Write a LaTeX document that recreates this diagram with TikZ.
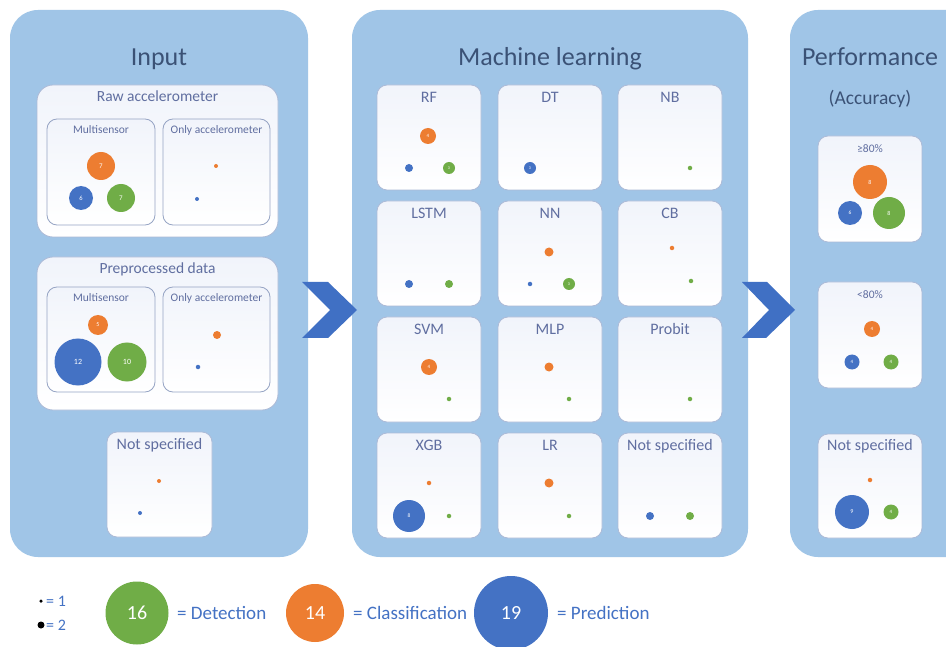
\documentclass[tikz,border=0pt]{standalone}
\usepackage{fontspec}
\setmainfont{Carlito}
\definecolor{panelc}{RGB}{160,197,231}
\definecolor{chevc}{RGB}{64,112,196}
\definecolor{cO}{RGB}{237,125,49}
\definecolor{cB}{RGB}{68,114,196}
\definecolor{cG}{RGB}{112,173,71}
\definecolor{ttl}{RGB}{59,82,118}
\definecolor{lbl}{RGB}{96,110,160}
\definecolor{boxline}{RGB}{172,186,215}
\definecolor{inline}{RGB}{150,164,196}
\definecolor{boxtop}{RGB}{241,244,251}
\newcommand\mybub[6]{\node[bub,fill=#1,minimum size=#4pt,font={\fontsize{#5}{#5}\selectfont}] (#6) at (#2) {#3};}
\newcommand\mydot[4]{\node[dotn,fill=#1,minimum size=#3pt] (#4) at (#2) {};}
\begin{document}
\begin{tikzpicture}[x=1pt,y=-1pt,
  panel/.style={fill=panelc,draw=none,rounded corners=28pt,inner sep=0pt},
  ptitle/.style={text=ttl,font={\fontsize{26}{26}\selectfont},anchor=mid,inner sep=0pt},
  grp/.style={draw=boxline,line width=0.8pt,rounded corners=16pt,top color=boxtop,bottom color=white,inner sep=0pt},
  cell/.style={draw=boxline,line width=0.8pt,rounded corners=10pt,top color=boxtop,bottom color=white,inner sep=0pt,minimum width=104pt,minimum height=105pt},
  sub/.style={draw=inline,line width=0.8pt,rounded corners=10pt,top color=boxtop,bottom color=white,inner sep=0pt,minimum width=108pt,minimum height=106pt},
  gtitle/.style={text=lbl,font={\fontsize{15.5}{15.5}\selectfont},anchor=mid,inner sep=0pt},
  stitle/.style={text=lbl,font={\fontsize{11.5}{11.5}\selectfont},anchor=mid,inner sep=0pt},
  ctitle/.style={text=lbl,font={\fontsize{16}{16}\selectfont},anchor=mid,inner sep=0pt},
  bub/.style={circle,inner sep=0pt,text=white,draw=none},
  dotn/.style={circle,inner sep=0pt,draw=none},
  chev/.style={fill=chevc,draw=none},
  legt/.style={text=cB,font={\fontsize{19}{19}\selectfont},anchor=west,inner sep=0pt},
  legs/.style={text=cB,font={\fontsize{16}{16}\selectfont},anchor=west,inner sep=0pt}
]
\useasboundingbox (0,0) rectangle (946,647);
\clip (0,0) rectangle (946,647);
\fill[white] (0,0) rectangle (946,647);

% panels
\node[panel,minimum width=298pt,minimum height=547pt] (pin) at (159,283.5) {};
\node[panel,minimum width=396pt,minimum height=547pt] (pml) at (550,283.5) {};
\node[panel,minimum width=230pt,minimum height=547pt] (ppf) at (905,283.5) {};

\node[ptitle] (tin) at (159,63) {Input};
\node[ptitle] (tml) at (550,63) {Machine learning};
\node[ptitle] (tpf) at (870,63) {Performance};
\node[ptitle,font={\fontsize{19.5}{19.5}\selectfont}] (tacc) at (870,102) {(Accuracy)};

% chevrons
\fill[chev] (302,282) -- (328,282) -- (357,310) -- (328,338) -- (302,338) -- (330,310) -- cycle;
\fill[chev] (742,282) -- (767,282) -- (795,310) -- (766,338) -- (742,338) -- (769,310) -- cycle;

% ---------- Input ----------
\node[grp,minimum width=241pt,minimum height=152pt] (raw) at (157.5,161) {};
\node[gtitle] (rawt) at ([yshift=-15pt]raw.north) {Raw accelerometer};
\node[sub] (rawm) at (101,172) {};
\node[stitle] (rawmt) at ([yshift=-13pt]rawm.north) {Multisensor};
\node[sub,minimum width=107pt] (rawo) at (216.5,172) {};
\node[stitle] (rawot) at ([yshift=-13pt]rawo.north) {Only accelerometer};
\mybub{cO}{101,166}{7}{28}{7}{r1}
\mybub{cB}{81,198}{6}{24}{6.5}{r2}
\mybub{cG}{121,198}{7}{28}{7}{r3}
\mydot{cO}{216,166}{4}{r4}
\mydot{cB}{197,199}{4}{r5}

\node[grp,minimum width=241pt,minimum height=153pt] (pre) at (157.5,333.5) {};
\node[gtitle] (pret) at ([yshift=-15pt]pre.north) {Preprocessed data};
\node[sub,minimum height=105pt] (prem) at (101,339.5) {};
\node[stitle] (premt) at ([yshift=-13pt]prem.north) {Multisensor};
\node[sub,minimum width=107pt,minimum height=105pt] (preo) at (216.5,339.5) {};
\node[stitle] (preot) at ([yshift=-13pt]preo.north) {Only accelerometer};
\mybub{cO}{98,325}{5}{20}{6}{p1}
\mybub{cB}{78,362}{12}{47}{8}{p2}
\mybub{cG}{127,362}{10}{39}{8}{p3}
\mydot{cO}{217,335}{8}{p4}
\mydot{cB}{198,367}{4.5}{p5}

\node[cell,minimum width=105pt] (nsi) at (159.5,484.5) {};
\node[ctitle] (nsit) at ([yshift=-16pt]nsi.north) {Not specified};
\mydot{cO}{159,481}{4}{n1}
\mydot{cB}{140,513}{4}{n2}

% ---------- Machine learning ----------
\node[cell] (rf) at (429,137.5) {};
\node[cell] (dt) at (550,137.5) {};
\node[cell] (nb) at (670,137.5) {};
\node[cell] (lstm) at (429,253.5) {};
\node[cell] (nn) at (550,253.5) {};
\node[cell] (cb) at (670,253.5) {};
\node[cell] (svm) at (429,369.5) {};
\node[cell] (mlp) at (550,369.5) {};
\node[cell] (prob) at (670,369.5) {};
\node[cell] (xgb) at (429,485.5) {};
\node[cell] (lr) at (550,485.5) {};
\node[cell] (nsm) at (670,485.5) {};
\node[ctitle] at ([yshift=-16pt]rf.north) {RF};
\node[ctitle] at ([yshift=-16pt]dt.north) {DT};
\node[ctitle] at ([yshift=-16pt]nb.north) {NB};
\node[ctitle] at ([yshift=-16pt]lstm.north) {LSTM};
\node[ctitle] at ([yshift=-16pt]nn.north) {NN};
\node[ctitle] at ([yshift=-16pt]cb.north) {CB};
\node[ctitle] at ([yshift=-16pt]svm.north) {SVM};
\node[ctitle] at ([yshift=-16pt]mlp.north) {MLP};
\node[ctitle] at ([yshift=-16pt]prob.north) {Probit};
\node[ctitle] at ([yshift=-16pt]xgb.north) {XGB};
\node[ctitle] at ([yshift=-16pt]lr.north) {LR};
\node[ctitle] at ([yshift=-16pt]nsm.north) {Not specified};

\mybub{cO}{428,136}{4}{16}{5}{rf1}
\mydot{cB}{409,168}{8}{rf2}
\mybub{cG}{449,168}{3}{12}{4}{rf3}
\mybub{cB}{530,168}{3}{12}{4}{dt1}
\mydot{cG}{690,168}{4.5}{nb1}
\mydot{cB}{409,284}{8}{ls1}
\mydot{cG}{449,284}{8}{ls2}
\mydot{cO}{549,252}{9}{nn1}
\mydot{cB}{530,284}{4.5}{nn2}
\mybub{cG}{569,284}{3}{12}{4}{nn3}
\mydot{cO}{672,248}{4.5}{cb1}
\mydot{cG}{691,281}{4.5}{cb2}
\mybub{cO}{429,367}{4}{16}{5}{sv1}
\mydot{cG}{449,399}{4.5}{sv2}
\mydot{cO}{549,367}{9}{ml1}
\mydot{cG}{569,399}{4.5}{ml2}
\mydot{cG}{690,399}{4.5}{pr1}
\mydot{cO}{429,483}{4.5}{xg1}
\mybub{cB}{409,516}{8}{32}{5.5}{xg2}
\mydot{cG}{449,516}{4.5}{xg3}
\mydot{cO}{549,483}{9}{lr1}
\mydot{cG}{569,516}{4.5}{lr2}
\mydot{cB}{650,516}{8}{ns1}
\mydot{cG}{690,516}{8}{ns2}

% ---------- Performance ----------
\node[cell,minimum height=106pt] (hi) at (870,189) {};
\node[stitle] (hit) at ([yshift=-15pt]hi.north) {≥80\%};
\mybub{cO}{870,182}{8}{34}{6}{h1}
\mybub{cB}{850,213}{6}{24}{5.5}{h2}
\mybub{cG}{889,213}{8}{32}{6}{h3}

\node[cell,minimum height=106pt] (lo) at (870,335) {};
\node[stitle] (lot) at ([yshift=-15pt]lo.north) {<80\%};
\mybub{cO}{872,329}{4}{16}{5}{l1}
\mybub{cB}{852,362}{4}{15}{5}{l2}
\mybub{cG}{891,362}{4}{15}{5}{l3}

\node[cell,minimum height=104pt] (nsp) at (870,486) {};
\node[ctitle] (nspt) at ([yshift=-15pt]nsp.north) {Not specified};
\mydot{cO}{870,480}{4.5}{s1}
\mybub{cB}{852,512}{9}{34}{6}{s2}
\mybub{cG}{891,512}{4}{15}{5}{s3}

% ---------- Legend ----------
\mydot{black}{41,601}{3.5}{k1}
\node[legs] (k1t) at (46,601) {= 1};
\mydot{black}{41,625}{7}{k2}
\node[legs] (k2t) at (46,625) {= 2};
\mybub{cG}{137,613}{16}{63}{20}{kg}
\node[legt] (kgt) at (177,613) {= Detection};
\mybub{cO}{315,613}{14}{58}{20}{ko}
\node[legt] (kot) at (353,613) {= Classification};
\mybub{cB}{511,613}{19}{74}{20}{kb}
\node[legt] (kbt) at (557,613) {= Prediction};
\end{tikzpicture}
\end{document}
